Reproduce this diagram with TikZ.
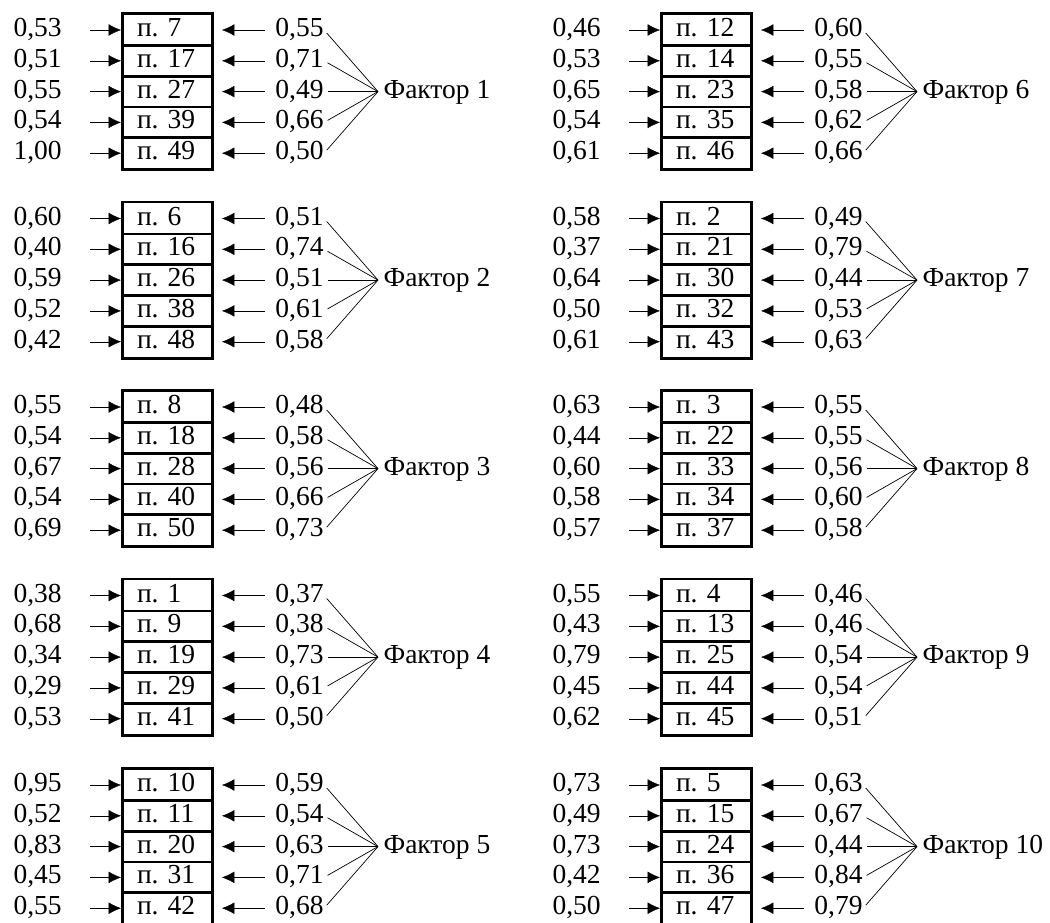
\documentclass[tikz,border=0pt]{standalone}
\usepackage{fontspec}
\setmainfont{Liberation Serif}
\usetikzlibrary{arrows.meta}

% one block: number, x offset, y offset, label, rows (left/item/right)
\newcommand{\factorblock}[5]{%
  \foreach \lv/\pn/\rv [count=\i] in {#5} {
    \node [cell] (c#1-\i) at (#2+167.5, #3+30.8*\i-30.8) {п.~\pn};
    \node [lval] (l#1-\i) at (#2+13,  #3+30.8*\i-30.8) {\lv};
    \node [rval] (r#1-\i) at (#2+265, #3+30.8*\i-30.8) {\rv};
    \draw [arr] (l#1-\i) -- (c#1-\i);
    \draw [arr, shorten >=8pt] (r#1-\i) -- (c#1-\i);
  }
  \node [factor] (f#1) at (#2+378, #3+61.6) {#4};
  \foreach \i in {1,...,5}
    \draw [line width=0.7pt, shorten <=4pt] (r#1-\i.east) -- (f#1.west);
  \draw [line width=2.4pt] (c#1-1.north west) rectangle (c#1-5.south east);
}

\begin{document}
\begin{tikzpicture}[x=1pt, y=-1pt, font=\fontsize{27.5}{31}\selectfont]
\tikzset{ line width=1.1pt,
  arr/.style={-{Latex[length=14pt, width=13pt]}},
  txt/.style={text height=19pt, text depth=6pt},
  cell/.style={txt, draw, line width=1.5pt, text width=61pt, inner xsep=14pt,
               inner ysep=0pt, minimum height=32pt, align=left},
  lval/.style={txt, anchor=west, inner sep=0pt, text width=76pt, align=left},
  rval/.style={txt, anchor=west, inner sep=0pt, text width=58pt, align=right},
  factor/.style={txt, anchor=west, inner xsep=5pt, inner ysep=0pt},
}
\useasboundingbox (0,0) rectangle (1050,923);

% left column
\factorblock{1}{0}{30}{Фактор 1}{0{,}53/7/0{,}55, 0{,}51/17/0{,}71,
  0{,}55/27/0{,}49, 0{,}54/39/0{,}66, 1{,}00/49/0{,}50}
\factorblock{2}{0}{218.5}{Фактор 2}{0{,}60/6/0{,}51, 0{,}40/16/0{,}74,
  0{,}59/26/0{,}51, 0{,}52/38/0{,}61, 0{,}42/48/0{,}58}
\factorblock{3}{0}{407}{Фактор 3}{0{,}55/8/0{,}48, 0{,}54/18/0{,}58,
  0{,}67/28/0{,}56, 0{,}54/40/0{,}66, 0{,}69/50/0{,}73}
\factorblock{4}{0}{595.5}{Фактор 4}{0{,}38/1/0{,}37, 0{,}68/9/0{,}38,
  0{,}34/19/0{,}73, 0{,}29/29/0{,}61, 0{,}53/41/0{,}50}
\factorblock{5}{0}{785}{Фактор 5}{0{,}95/10/0{,}59, 0{,}52/11/0{,}54,
  0{,}83/20/0{,}63, 0{,}45/31/0{,}71, 0{,}55/42/0{,}68}

% right column
\factorblock{6}{539}{30}{Фактор 6}{0{,}46/12/0{,}60, 0{,}53/14/0{,}55,
  0{,}65/23/0{,}58, 0{,}54/35/0{,}62, 0{,}61/46/0{,}66}
\factorblock{7}{539}{218.5}{Фактор 7}{0{,}58/2/0{,}49, 0{,}37/21/0{,}79,
  0{,}64/30/0{,}44, 0{,}50/32/0{,}53, 0{,}61/43/0{,}63}
\factorblock{8}{539}{407}{Фактор 8}{0{,}63/3/0{,}55, 0{,}44/22/0{,}55,
  0{,}60/33/0{,}56, 0{,}58/34/0{,}60, 0{,}57/37/0{,}58}
\factorblock{9}{539}{595.5}{Фактор 9}{0{,}55/4/0{,}46, 0{,}43/13/0{,}46,
  0{,}79/25/0{,}54, 0{,}45/44/0{,}54, 0{,}62/45/0{,}51}
\factorblock{10}{539}{785}{Фактор 10}{0{,}73/5/0{,}63, 0{,}49/15/0{,}67,
  0{,}73/24/0{,}44, 0{,}42/36/0{,}84, 0{,}50/47/0{,}79}

\end{tikzpicture}
\end{document}
